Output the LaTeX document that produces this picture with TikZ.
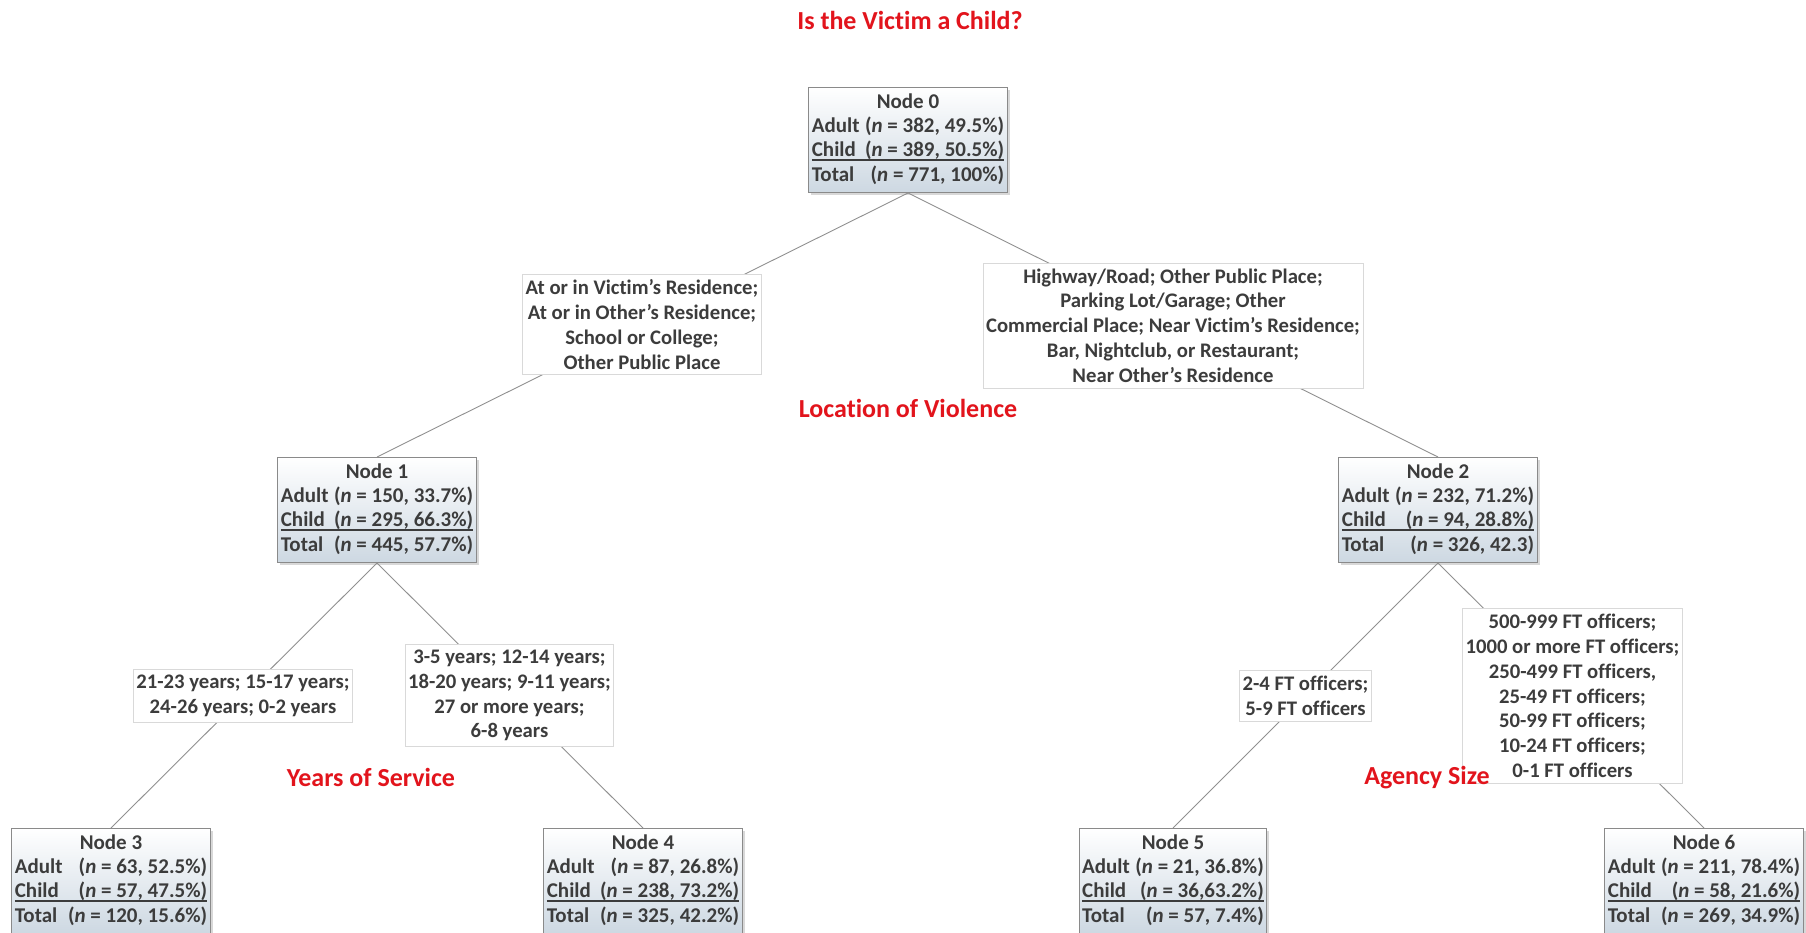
\documentclass[tikz,border=0pt]{standalone}
\usepackage{fontspec}
\setmainfont[Ligatures=NoCommon]{Carlito}
\usetikzlibrary{shadows}
\definecolor{txt}{HTML}{3C3C3C}
\definecolor{redlbl}{HTML}{E2141C}
\definecolor{edgec}{HTML}{909090}
\definecolor{boxbot}{HTML}{CDD8E2}
\definecolor{boxline}{HTML}{8A8A8A}
\definecolor{lblline}{HTML}{D9D9D9}
\setlength{\arrayrulewidth}{1.2pt}
\newcommand{\ntab}[4]{%
\begin{tabular}{@{}l@{\hspace{5.5pt}}r@{}}
\multicolumn{2}{c}{#1}\\
#2\\
#3\\[-4pt]\hline\noalign{\vskip4pt}
#4
\end{tabular}}
\newcommand{\nn}{\textit{n}}
\tikzset{
  statnode/.style={draw=boxline, line width=0.8pt, top color=white, bottom color=boxbot,
    inner xsep=3pt, inner ysep=4pt, anchor=north, text=txt,
    font=\fontsize{21}{24}\selectfont\bfseries,
    drop shadow={shadow xshift=2.5pt, shadow yshift=-2.5pt, opacity=0.3}},
  lblbox/.style={draw=lblline, line width=0.8pt, fill=white, inner xsep=3pt, inner ysep=5.5pt,
    align=center, text=txt, font=\fontsize{20.7}{24.8}\selectfont\bfseries},
  redtxt/.style={text=redlbl, font=\fontsize{26}{30}\selectfont\bfseries},
  conn/.style={draw=edgec, line width=0.9pt}
}
\begin{document}
\begin{tikzpicture}[x=1pt,y=-1pt]
\useasboundingbox (0,0) rectangle (1806,933);
\clip (0,0) rectangle (1806,933);
\fill[white] (0,0) rectangle (1806,933);

\node[redtxt] (title) at (910,20) {Is the Victim a Child?};

\node[statnode] (n0) at (908,87) {\ntab{Node 0}{Adult & (\nn{} = 382, 49.5\%)}{Child & (\nn{} = 389, 50.5\%)}{Total & (\nn{} = 771, 100\%)}};
\node[statnode] (n1) at (377,457) {\ntab{Node 1}{Adult & (\nn{} = 150, 33.7\%)}{Child & (\nn{} = 295, 66.3\%)}{Total & (\nn{} = 445, 57.7\%)}};
\node[statnode] (n2) at (1438,457) {\ntab{Node 2}{Adult & (\nn{} = 232, 71.2\%)}{Child & (\nn{} = 94, 28.8\%)}{Total & (\nn{} = 326, 42.3)}};
\node[statnode] (n3) at (111,828) {\ntab{Node 3}{Adult & (\nn{} = 63, 52.5\%)}{Child & (\nn{} = 57, 47.5\%)}{Total & (\nn{} = 120, 15.6\%)}};
\node[statnode] (n4) at (643,828) {\ntab{Node 4}{Adult & (\nn{} = 87, 26.8\%)}{Child & (\nn{} = 238, 73.2\%)}{Total & (\nn{} = 325, 42.2\%)}};
\node[statnode] (n5) at (1173,828) {\ntab{Node 5}{Adult & (\nn{} = 21, 36.8\%)}{Child & (\nn{} = 36,63.2\%)}{Total & (\nn{} = 57, 7.4\%)}};
\node[statnode] (n6) at (1704,828) {\ntab{Node 6}{Adult & (\nn{} = 211, 78.4\%)}{Child & (\nn{} = 58, 21.6\%)}{Total & (\nn{} = 269, 34.9\%)}};

\draw[conn] (n0.south) -- (n1.north);
\draw[conn] (n0.south) -- (n2.north);
\draw[conn] (n1.south) -- (n3.north);
\draw[conn] (n1.south) -- (n4.north);
\draw[conn] (n2.south) -- (n5.north);
\draw[conn] (n2.south) -- (n6.north);

\node[lblbox] (la) at (642,324.5) {At or in Victim’s Residence;\\At or in Other’s Residence;\\School or College;\\Other Public Place};
\node[lblbox] (lb) at (1173,325.5) {Highway/Road; Other Public Place;\\Parking Lot/Garage; Other\\Commercial Place; Near Victim’s Residence;\\Bar, Nightclub, or Restaurant;\\Near Other’s Residence};
\node[lblbox] (lc) at (243,696) {21-23 years; 15-17 years;\\24-26 years; 0-2 years};
\node[lblbox] (ld) at (509.5,695.5) {3-5 years; 12-14 years;\\18-20 years; 9-11 years;\\27 or more years;\\6-8 years};
\node[lblbox] (le) at (1305.5,696) {2-4 FT officers;\\5-9 FT officers};
\node[lblbox] (lf) at (1572.5,696) {500-999 FT officers;\\1000 or more FT officers;\\250-499 FT officers,\\25-49 FT officers;\\50-99 FT officers;\\10-24 FT officers;\\0-1 FT officers};

\node[redtxt] (loc) at (908,408) {Location of Violence};
\node[redtxt] (yrs) at (371,777) {Years of Service};
\node[redtxt] (agy) at (1427,778) {Agency Size};
\end{tikzpicture}
\end{document}
